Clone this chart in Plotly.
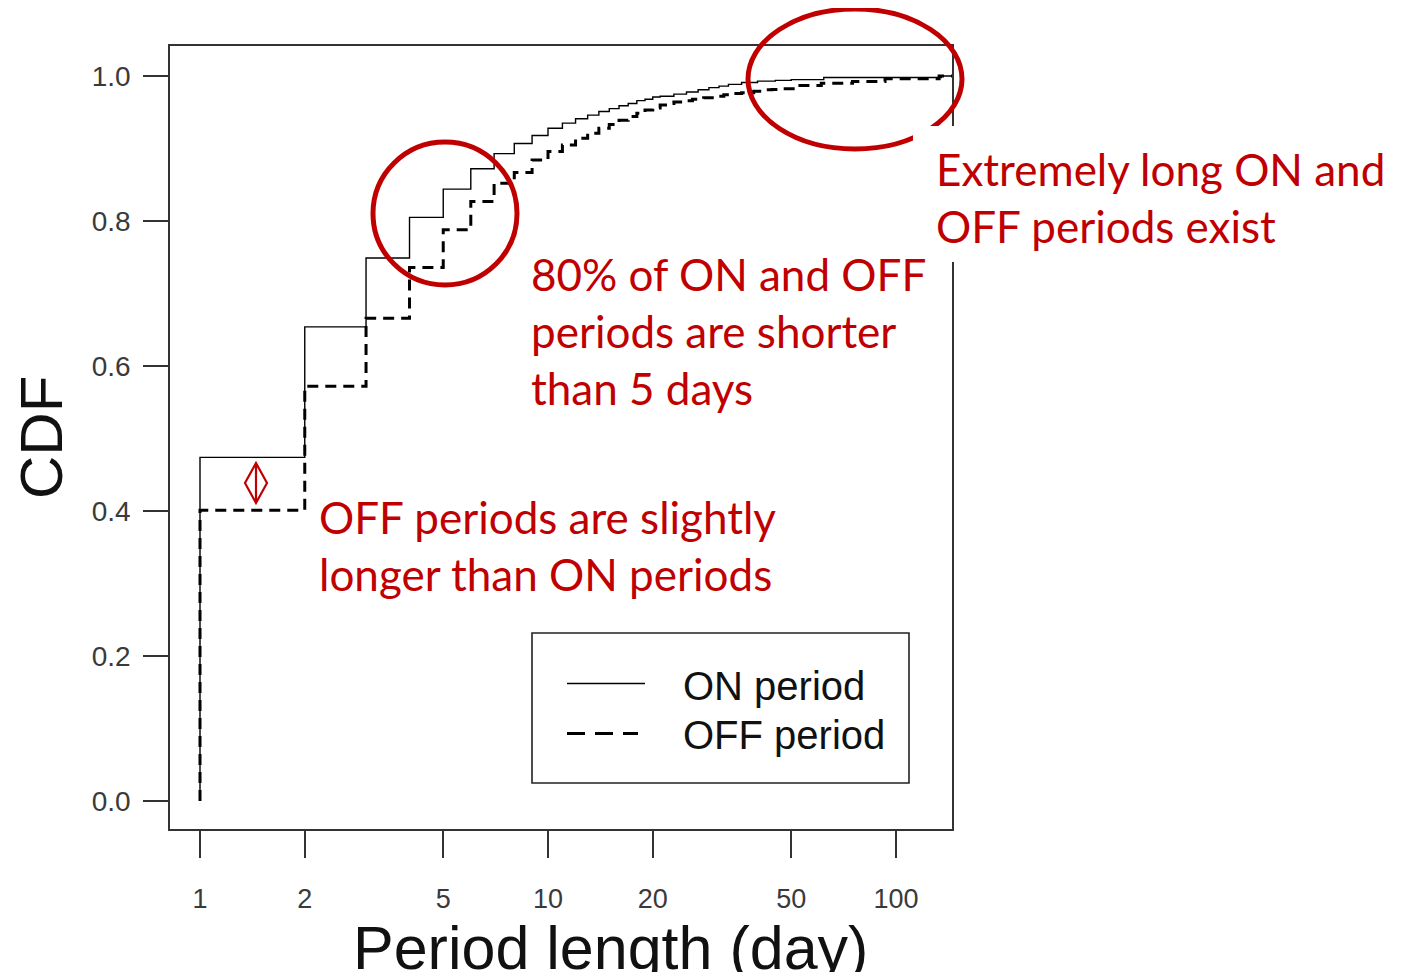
import plotly.graph_objects as go

# ---------------- data ----------------
on_days = [1, 1, 2, 3, 4, 5, 6, 7, 8, 9, 10, 11, 12, 13, 14, 15, 16, 17, 18, 19, 20, 21,
           23, 25, 27, 29, 31, 33, 36, 40, 45, 50, 62, 135, 150]
on_cdf = [0, 0.474, 0.654, 0.749, 0.805, 0.844, 0.872, 0.893, 0.907, 0.918, 0.928, 0.935,
          0.941, 0.946, 0.951, 0.955, 0.959, 0.962, 0.966, 0.968, 0.971, 0.972,
          0.975, 0.978, 0.981, 0.984, 0.986, 0.9885, 0.991, 0.993, 0.994, 0.995, 0.998, 1.0, 1.0]

off_days = [1, 1, 2, 3, 4, 5, 6, 7, 8, 9, 10, 11, 12, 13, 14, 15, 16, 17, 18, 19, 20, 21, 22,
            23, 25, 26, 28, 30, 32, 34, 36, 39, 41, 44, 47, 52, 61, 75, 93, 133, 150]
off_cdf = [0, 0.401, 0.572, 0.666, 0.736, 0.788, 0.827, 0.852, 0.867, 0.884, 0.896, 0.905,
           0.914, 0.921, 0.928, 0.933, 0.939, 0.944, 0.9485, 0.953, 0.956, 0.960, 0.962,
           0.964, 0.966, 0.968, 0.970, 0.972, 0.974, 0.976, 0.977, 0.979, 0.981,
           0.9815, 0.9825, 0.987, 0.990, 0.9926, 0.9963, 1.0, 1.0]

x_ticks = [1, 2, 5, 10, 20, 50, 100]
x_ticklabels = ["1", "2", "5", "10", "20", "50", "100"]
y_ticks = [0.0, 0.2, 0.4, 0.6, 0.8, 1.0]
y_ticklabels = ["0.0", "0.2", "0.4", "0.6", "0.8", "1.0"]

series_names = ["ON period", "OFF period"]
note_long = "Extremely long ON and<br>OFF periods exist"
note_80 = "80% of ON and OFF<br>periods are shorter<br>than 5 days"
note_off = "OFF periods are slightly<br>longer than ON periods"

# ---------------- layout geometry (screen pixels; page has an 8px body margin) ----------------
OFS = 8
W, H = 1401 - 2 * OFS, 980 - 2 * OFS
L, R, T, B = 170, 952, 46, 829          # plot box on screen
PW, PH = R - L, B - T


def px(x):
    return (x - L) / PW


def py(y):
    return (B - y) / PH


RED = "#C00000"
AX = "#333333"

fig = go.Figure()
fig.add_trace(go.Scatter(x=on_days, y=on_cdf, mode="lines", line_shape="hv",
                         line=dict(color="black", width=1.4), name=series_names[0],
                         showlegend=False))
fig.add_trace(go.Scatter(x=off_days, y=off_cdf, mode="lines", line_shape="hv",
                         line=dict(color="black", width=3, dash="11px,7px"),
                         name=series_names[1], showlegend=False))

fig.update_layout(
    width=W, height=H,
    margin=dict(l=L - OFS, r=W - (R - OFS), t=T - OFS, b=H - (B - OFS)),
    paper_bgcolor="white", plot_bgcolor="white",
    font=dict(family="Liberation Sans, Arial, sans-serif", color=AX),
)
fig.update_xaxes(type="log", range=[-0.0862, 2.1609], tickvals=x_ticks, ticktext=x_ticklabels,
                 showgrid=False, zeroline=False, showline=True, mirror=True,
                 linecolor=AX, linewidth=1.6, ticks="outside", ticklen=27, tickwidth=1.6,
                 tickcolor=AX, tickfont=dict(size=27, color="#3a3a3a"),
                 ticklabelstandoff=18)
fig.update_yaxes(range=[-0.0386, 1.0414], tickvals=y_ticks, ticktext=y_ticklabels,
                 showgrid=False, zeroline=False, showline=True, mirror=True,
                 linecolor=AX, linewidth=1.6, ticks="outside", ticklen=25, tickwidth=1.6,
                 tickcolor=AX, tickfont=dict(size=28, color="#3a3a3a"),
                 ticklabelstandoff=7)

shapes = []
# red highlight circles
shapes.append(dict(type="circle", xref="paper", yref="paper",
                   x0=px(373), x1=px(517), y0=py(285), y1=py(142),
                   line=dict(color=RED, width=5), layer="above"))
shapes.append(dict(type="circle", xref="paper", yref="paper",
                   x0=px(748), x1=px(962), y0=py(149), y1=py(9),
                   line=dict(color=RED, width=5), layer="above"))
# white background behind the top-right note
shapes.append(dict(type="rect", xref="paper", yref="paper",
                   x0=px(913), x1=px(1399), y0=py(262), y1=py(126),
                   fillcolor="white", line=dict(width=0), layer="above"))
# red diamond with vertical bar
dx0, dy0 = 256, 483
path = "M {a},{b} L {c},{d} L {a},{e} L {f},{d} Z M {a},{b} L {a},{e}".format(
    a=px(dx0), b=py(dy0 - 20), c=px(dx0 + 11), d=py(dy0), e=py(dy0 + 20), f=px(dx0 - 11))
shapes.append(dict(type="path", xref="paper", yref="paper", path=path,
                   line=dict(color=RED, width=2.2), layer="above"))
# legend box and samples
shapes.append(dict(type="rect", xref="paper", yref="paper",
                   x0=px(532), x1=px(909), y0=py(783), y1=py(633),
                   line=dict(color="#222", width=1.6), fillcolor="rgba(0,0,0,0)", layer="above"))
shapes.append(dict(type="line", xref="paper", yref="paper",
                   x0=px(567), x1=px(645), y0=py(683.5), y1=py(683.5),
                   line=dict(color="black", width=1.4), layer="above"))
shapes.append(dict(type="line", xref="paper", yref="paper",
                   x0=px(567), x1=px(638), y0=py(733.5), y1=py(733.5),
                   line=dict(color="black", width=3, dash="18px,10px"), layer="above"))
fig.update_layout(shapes=shapes)

ann = []
ann.append(dict(text=series_names[0], x=px(681), y=py(686), xref="paper", yref="paper",
                xanchor="left", yanchor="middle", showarrow=False,
                font=dict(family="Liberation Sans, Arial", size=40, color="#111")))
ann.append(dict(text=series_names[1], x=px(681), y=py(735), xref="paper", yref="paper",
                xanchor="left", yanchor="middle", showarrow=False,
                font=dict(family="Liberation Sans, Arial", size=40, color="#111")))
ann.append(dict(text="Period length (day)", x=px(610), y=py(948), xref="paper", yref="paper",
                xanchor="center", yanchor="middle", showarrow=False,
                font=dict(family="Liberation Sans, Arial", size=61, color="#111")))
ann.append(dict(text="CDF", x=px(41), y=py(438), xref="paper", yref="paper",
                xanchor="center", yanchor="middle", showarrow=False, textangle=-90,
                font=dict(family="Liberation Sans, Arial", size=60, color="#111")))
red_font = dict(family="Lato, Carlito, Calibri, sans-serif", size=44, color=RED)
ann.append(dict(text=note_long, x=px(934), y=py(197), xref="paper", yref="paper",
                xanchor="left", yanchor="middle", align="left", showarrow=False, font=red_font))
ann.append(dict(text=note_80, x=px(529), y=py(331), xref="paper", yref="paper",
                xanchor="left", yanchor="middle", align="left", showarrow=False, font=red_font))
ann.append(dict(text=note_off, x=px(317), y=py(545), xref="paper", yref="paper",
                xanchor="left", yanchor="middle", align="left", showarrow=False, font=red_font))
fig.update_layout(annotations=ann)

fig.write_html("out.html")
